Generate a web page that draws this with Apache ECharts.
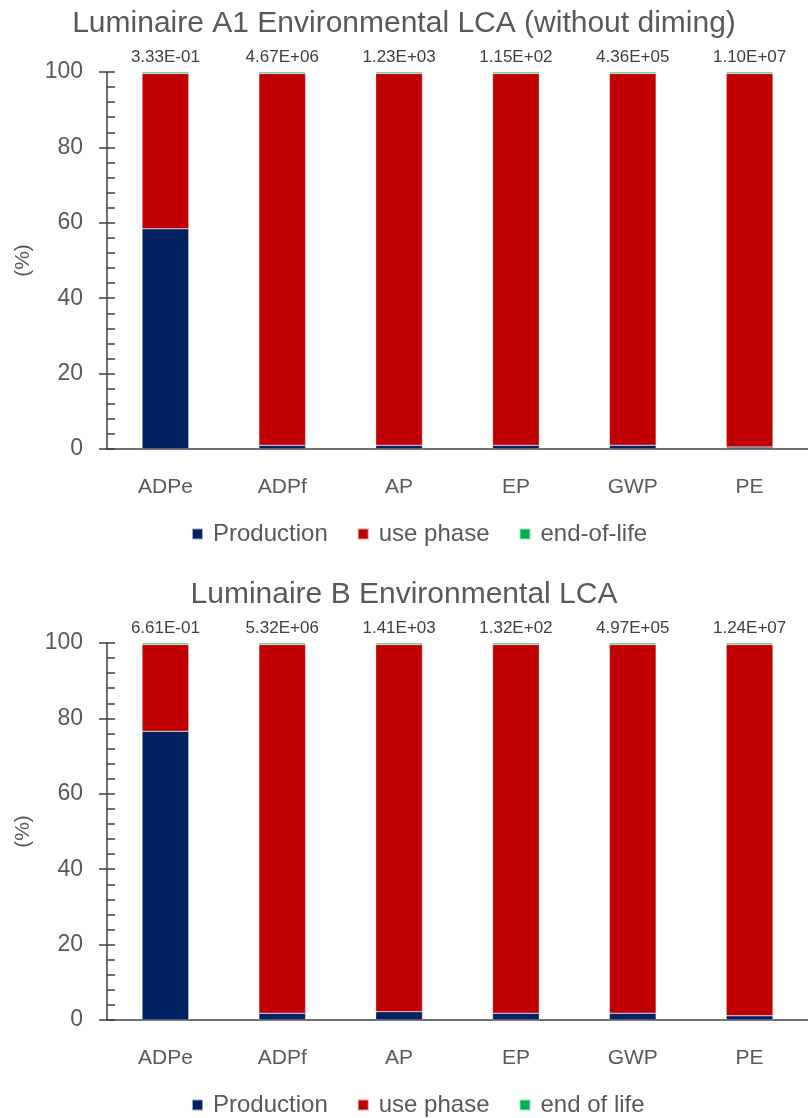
<!DOCTYPE html>
<html>
<head>
<meta charset="utf-8">
<script src="https://cdn.jsdelivr.net/npm/echarts@6/dist/echarts.min.js"></script>
<style>
  html, body { margin: 0; padding: 0; background: #fff; overflow: hidden; }
  #chartA { position: absolute; left: 0; top: 0; width: 808px; height: 560px; }
  #chartB { position: absolute; left: 0; top: 571px; width: 808px; height: 547px; }
</style>
</head>
<body>
<div id="chartA"></div>
<div id="chartB"></div>
<script>
// Impact categories
const categories = ['ADPe', 'ADPf', 'AP', 'EP', 'GWP', 'PE'];
const yTicks = [0, 20, 40, 60, 80, 100];

// Luminaire A1 (without dimming): share of each life-cycle stage, %
const a1Production = [58.4, 1.0, 1.0, 1.0, 1.0, 0.5];
const a1UsePhase   = [41.2, 98.6, 98.6, 98.6, 98.6, 99.1];
const a1EndOfLife  = [0.4, 0.4, 0.4, 0.4, 0.4, 0.4];
const a1Totals     = ['3.33E-01', '4.67E+06', '1.23E+03', '1.15E+02', '4.36E+05', '1.10E+07'];

// Luminaire B: share of each life-cycle stage, %
const bProduction = [76.6, 1.8, 2.2, 1.8, 1.8, 1.1];
const bUsePhase   = [23.0, 97.8, 97.4, 97.8, 97.8, 98.5];
const bEndOfLife  = [0.4, 0.4, 0.4, 0.4, 0.4, 0.4];
const bTotals     = ['6.61E-01', '5.32E+06', '1.41E+03', '1.32E+02', '4.97E+05', '1.24E+07'];

const FONT = "'Liberation Sans', Arial, sans-serif";
const TEXT = '#595959';
const AXIS = '#404040';
const C_PROD = '#002060', C_USE = '#C00000', C_EOL = '#00B050';

function buildOption(cfg) {
  const barStyle = (color) => ({ color: color, borderColor: 'rgba(255,255,255,0.6)', borderWidth: 0.5 });
  return {
    animation: false,
    textStyle: { fontFamily: FONT },
    title: {
      text: cfg.title,
      left: 'center',
      top: 4,
      textStyle: { fontFamily: FONT, fontSize: 30, fontWeight: 'normal', color: TEXT }
    },
    legend: {
      data: cfg.names,
      left: 186,
      top: 517,
      itemWidth: 11,
      itemHeight: 11,
      itemGap: 29,
      icon: 'rect',
      textStyle: { fontFamily: FONT, fontSize: 24, color: TEXT, padding: [0, 0, 0, 5] }
    },
    grid: { left: 107, right: -13, top: 72, height: 377 },
    xAxis: {
      type: 'category',
      data: categories,
      axisLine: { lineStyle: { color: AXIS, width: 1.5 } },
      axisTick: { show: false },
      axisLabel: { margin: 28, fontFamily: FONT, fontSize: 21, color: TEXT }
    },
    yAxis: [
      {
        type: 'value',
        min: yTicks[0],
        max: yTicks[yTicks.length - 1],
        interval: 20,
        name: '(%)',
        nameLocation: 'middle',
        nameRotate: 90,
        nameGap: 60,
        nameTextStyle: { fontFamily: FONT, fontSize: 21, color: TEXT },
        axisLine: { show: true, lineStyle: { color: AXIS, width: 1.5 } },
        axisTick: { show: true, inside: true, length: 8, lineStyle: { color: AXIS, width: 1.5 } },
        minorTick: { show: true, splitNumber: 5, length: 8, lineStyle: { color: AXIS, width: 1.5 } },
        splitLine: { show: false },
        axisLabel: { margin: 24, fontFamily: FONT, fontSize: 23, color: TEXT }
      },
      {
        // outer half of the major ticks
        type: 'value',
        position: 'left',
        min: yTicks[0],
        max: yTicks[yTicks.length - 1],
        interval: 20,
        axisLine: { show: false },
        axisTick: { show: true, inside: false, length: 8, lineStyle: { color: AXIS, width: 1.5 } },
        axisLabel: { show: false },
        splitLine: { show: false }
      }
    ],
    series: [
      {
        name: cfg.names[0], type: 'bar', stack: 'total', barWidth: '40%',
        itemStyle: barStyle(C_PROD), data: cfg.production
      },
      {
        name: cfg.names[1], type: 'bar', stack: 'total', barWidth: '40%',
        itemStyle: barStyle(C_USE), data: cfg.usePhase
      },
      {
        name: cfg.names[2], type: 'bar', stack: 'total', barWidth: '40%',
        itemStyle: barStyle(C_EOL), data: cfg.endOfLife,
        label: {
          show: true,
          position: 'top',
          distance: 6,
          fontFamily: FONT,
          fontSize: 17,
          color: '#404040',
          formatter: (p) => cfg.totals[p.dataIndex]
        }
      }
    ]
  };
}

const chartA = echarts.init(document.getElementById('chartA'), null, { renderer: 'canvas' });
chartA.setOption(buildOption({
  title: 'Luminaire A1 Environmental LCA (without diming)',
  names: ['Production', 'use phase', 'end-of-life'],
  production: a1Production,
  usePhase: a1UsePhase,
  endOfLife: a1EndOfLife,
  totals: a1Totals
}));

const chartB = echarts.init(document.getElementById('chartB'), null, { renderer: 'canvas' });
chartB.setOption(buildOption({
  title: 'Luminaire B Environmental LCA',
  names: ['Production', 'use phase', 'end of life'],
  production: bProduction,
  usePhase: bUsePhase,
  endOfLife: bEndOfLife,
  totals: bTotals
}));
</script>
</body>
</html>
